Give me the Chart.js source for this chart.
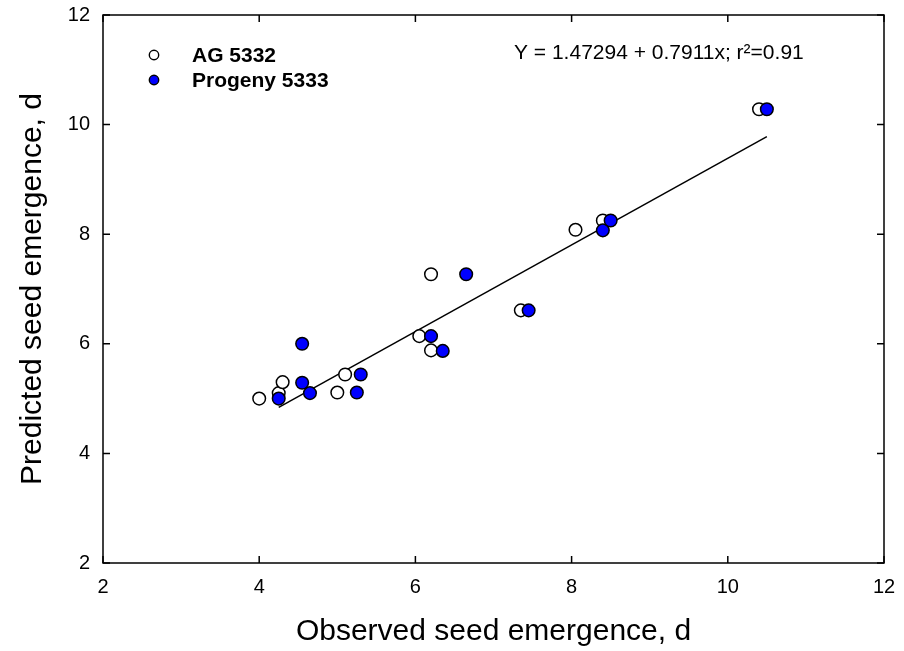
<!DOCTYPE html>
<html>
<head>
<meta charset="utf-8">
<script src="https://cdn.jsdelivr.net/npm/chart.js@4/dist/chart.umd.min.js"></script>
<style>
html,body{margin:0;padding:0;background:#fff;}
#wrap{width:904px;height:651px;position:relative;}
</style>
</head>
<body>
<div id="wrap"><canvas id="c" width="904" height="651"></canvas></div>
<script>
// Data
const seriesNames = ["AG 5332", "Progeny 5333"];
const agObserved   = [4.0, 4.25, 4.30, 5.0, 5.10, 6.05, 6.20, 6.20, 8.05, 8.40, 7.35, 10.40];
const agPredicted  = [5.0, 5.10, 5.30, 5.11, 5.44, 6.14, 5.88, 7.27, 8.08, 8.25, 6.61, 10.28];
const progObserved  = [4.25, 4.65, 4.55, 5.25, 5.30, 6.20, 6.35, 6.65, 8.40, 8.50, 7.45, 10.50, 4.55];
const progPredicted = [5.0, 5.10, 5.29, 5.11, 5.44, 6.14, 5.87, 7.27, 8.07, 8.25, 6.61, 10.28, 6.0];
const fitX = [4.25, 10.5];
const fitY = [4.84, 9.78];
const equationText = "Y = 1.47294 + 0.7911x; r²=0.91";
const xTicks = [2, 4, 6, 8, 10, 12];
const yTicks = [2, 4, 6, 8, 10, 12];
const xTitle = "Observed seed emergence, d";
const yTitle = "Predicted seed emergence, d";

const FONT = "Arial, 'Liberation Sans', sans-serif";
const toPts = (xs, ys) => xs.map((x, i) => ({x: x, y: ys[i]}));

const framePlugin = {
  id: 'frame',
  afterDraw(chart) {
    const ctx = chart.ctx;
    const a = chart.chartArea;
    const xs = chart.scales.x, ys = chart.scales.y;
    ctx.save();
    ctx.strokeStyle = '#000';
    ctx.lineWidth = 1.5;
    ctx.strokeRect(a.left, a.top, a.right - a.left, a.bottom - a.top);
    const tl = 7;
    ctx.beginPath();
    xTicks.forEach(v => {
      const p = xs.getPixelForValue(v);
      ctx.moveTo(p, a.bottom); ctx.lineTo(p, a.bottom - tl);
      ctx.moveTo(p, a.top); ctx.lineTo(p, a.top + tl);
    });
    yTicks.forEach(v => {
      const p = ys.getPixelForValue(v);
      ctx.moveTo(a.left, p); ctx.lineTo(a.left + tl, p);
      ctx.moveTo(a.right, p); ctx.lineTo(a.right - tl, p);
    });
    ctx.stroke();

    // legend
    const ds = chart.data.datasets;
    const legendItems = [ds[1], ds[0]];
    const lx = 154, ly0 = 55, ldy = 25;
    legendItems.forEach((d, i) => {
      const y = ly0 + i * ldy;
      ctx.beginPath();
      ctx.arc(lx, y, 4.7, 0, Math.PI * 2);
      ctx.fillStyle = d.backgroundColor;
      ctx.fill();
      ctx.lineWidth = 1.4;
      ctx.strokeStyle = '#000';
      ctx.stroke();
      ctx.fillStyle = '#000';
      ctx.font = "bold 21px " + FONT;
      ctx.textAlign = 'left';
      ctx.textBaseline = 'middle';
      ctx.fillText(d.label, 192, y + 1);
    });

    // equation
    ctx.font = "21px " + FONT;
    ctx.textAlign = 'left';
    ctx.textBaseline = 'middle';
    ctx.fillStyle = '#000';
    ctx.fillText(equationText, 514, 53);
    ctx.restore();
  }
};

function zeroPad(s) { s.paddingTop = 0; s.paddingBottom = 0; s.paddingLeft = 0; s.paddingRight = 0; }

new Chart(document.getElementById('c'), {
  type: 'scatter',
  data: {
    datasets: [
      {
        label: seriesNames[1],
        data: toPts(progObserved, progPredicted),
        backgroundColor: '#0000FF',
        borderColor: '#000',
        borderWidth: 1.5,
        pointRadius: 6.3,
        order: 0
      },
      {
        label: seriesNames[0],
        data: toPts(agObserved, agPredicted),
        backgroundColor: '#FFFFFF',
        borderColor: '#000',
        borderWidth: 1.5,
        pointRadius: 6.3,
        order: 1
      },
      {
        type: 'line',
        label: 'fit',
        data: toPts(fitX, fitY),
        borderColor: '#000',
        borderWidth: 1.5,
        pointRadius: 0,
        fill: false,
        order: 2
      }
    ]
  },
  options: {
    responsive: false,
    animation: false,
    layout: { padding: { top: 15, right: 20, left: 0, bottom: 0 } },
    plugins: { legend: { display: false }, tooltip: { enabled: false } },
    scales: {
      x: {
        type: 'linear', min: 2, max: 12,
        afterBuildTicks(s) { s.ticks = xTicks.map(v => ({value: v})); },
        afterFit(s) { s.height = 88; zeroPad(s); },
        grid: { display: false, drawTicks: false },
        border: { display: false },
        ticks: { color: '#000', font: { family: FONT, size: 20 }, padding: 12, maxRotation: 0 },
        title: { display: true, text: xTitle, color: '#000', font: { family: FONT, size: 30 }, padding: { top: 0, bottom: 1 } }
      },
      y: {
        type: 'linear', min: 2, max: 12,
        afterBuildTicks(s) { s.ticks = yTicks.map(v => ({value: v})); },
        afterFit(s) { s.width = 103; zeroPad(s); },
        grid: { display: false, drawTicks: false },
        border: { display: false },
        ticks: { color: '#000', font: { family: FONT, size: 20 }, padding: 13 },
        title: { display: true, text: yTitle, color: '#000', font: { family: FONT, size: 30 }, padding: { top: 15, bottom: 0 } }
      }
    }
  },
  plugins: [framePlugin]
});
</script>
</body>
</html>
